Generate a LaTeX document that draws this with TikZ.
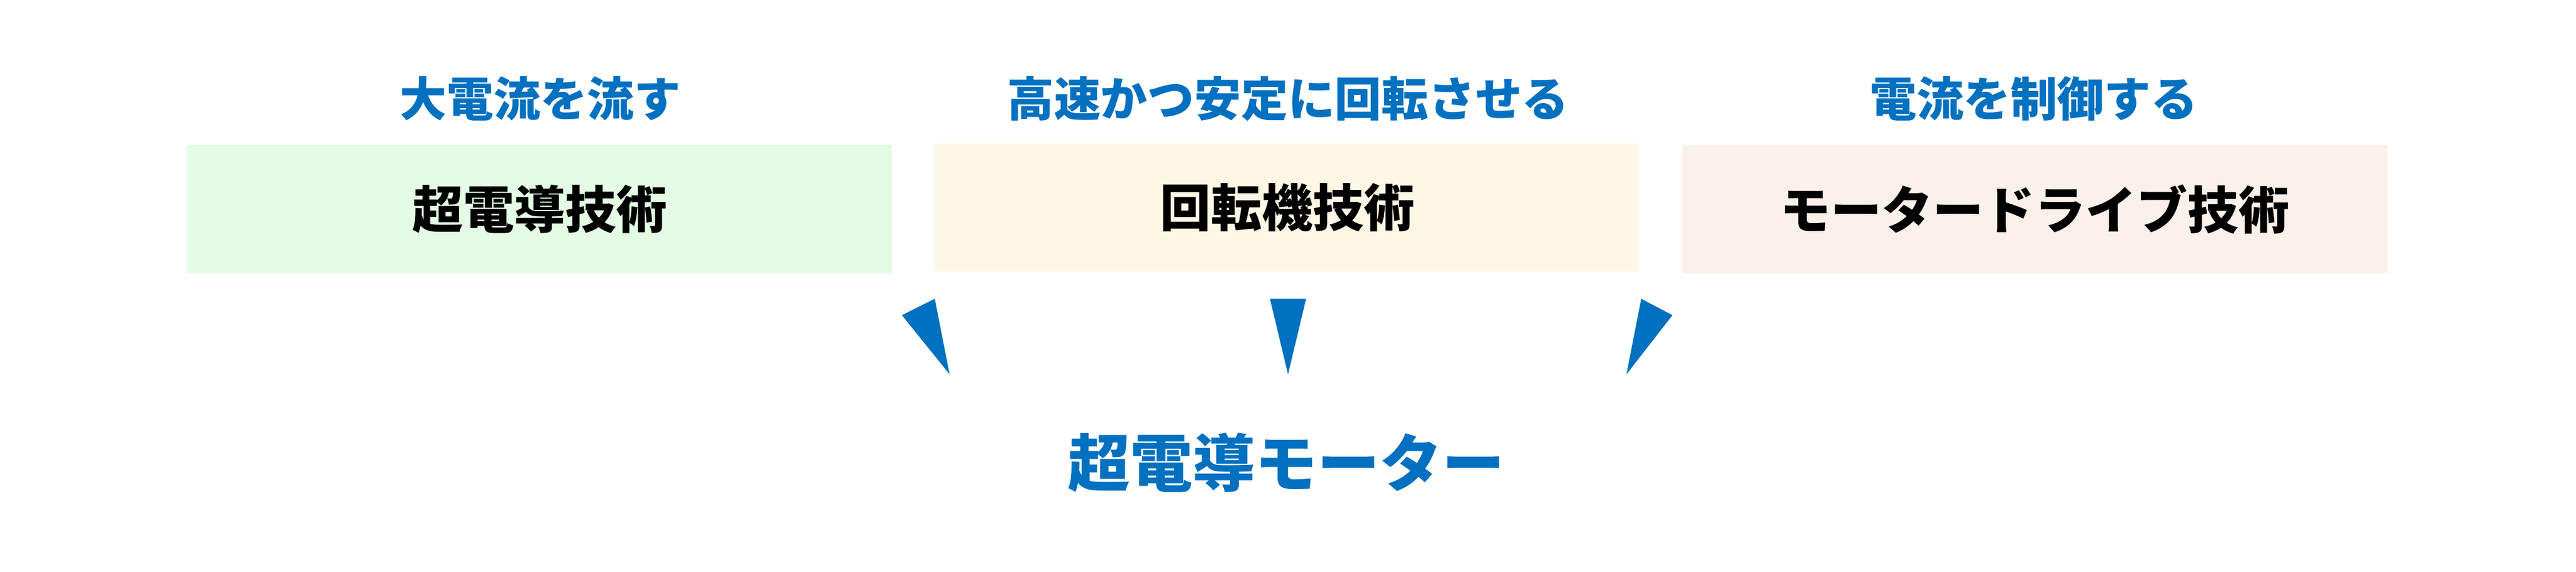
\documentclass[tikz,border=0pt]{standalone}
\usepackage{fontspec}
\newfontfamily\cjk{Noto Sans CJK JP}
\definecolor{refblue}{HTML}{0070C0}
\definecolor{fillgreen}{HTML}{E3FCE3}
\definecolor{fillyellow}{HTML}{FFF7E6}
\definecolor{fillpeach}{HTML}{FBF1EA}
\tikzset{
  techbox/.style={draw=none,minimum width=429pt,minimum height=78pt,inner sep=0pt,
    font=\cjk\bfseries\fontsize{31}{31}\selectfont,text=black},
  headtext/.style={inner sep=0pt,text=refblue,font=\cjk\bfseries\fontsize{28.5}{28.5}\selectfont},
  goaltext/.style={inner sep=0pt,text=refblue,font=\cjk\bfseries\fontsize{38}{38}\selectfont},
  wedge/.style={fill=refblue,draw=none}
}
\begin{document}
\begin{tikzpicture}[x=1pt,y=-1pt]
\useasboundingbox (0,0) rectangle (1568,348.44);
\fill[white] (0,0) rectangle (1568,348.44);
% boxes
\node[techbox,fill=fillgreen]  (b1) at (328.5,127.5) {超電導技術};
\node[techbox,fill=fillyellow] (b2) at (783.5,126.5) {回転機技術};
\node[techbox,fill=fillpeach]  (b3) at (1238.5,127.5) {モータードライブ技術};
% headings
\node[headtext] (h1) at (329,60) {大電流を流す};
\node[headtext] (h2) at (784,60) {高速かつ安定に回転させる};
\node[headtext] (h3) at (1238,60) {電流を制御する};
% goal
\node[goaltext] (g) at (783,282) {超電導モーター};
% wedge arrows
\coordinate (l1) at (569,182); \coordinate (l2) at (549,192); \coordinate (lt) at (578,228);
\coordinate (m1) at (773,182); \coordinate (m2) at (795,182); \coordinate (mt) at (784,228);
\coordinate (r1) at (999,182); \coordinate (r2) at (1018,192); \coordinate (rt) at (990,228);
\fill[wedge] (l1) -- (l2) -- (lt) -- cycle;
\fill[wedge] (m1) -- (m2) -- (mt) -- cycle;
\fill[wedge] (r1) -- (r2) -- (rt) -- cycle;
\end{tikzpicture}
\end{document}
